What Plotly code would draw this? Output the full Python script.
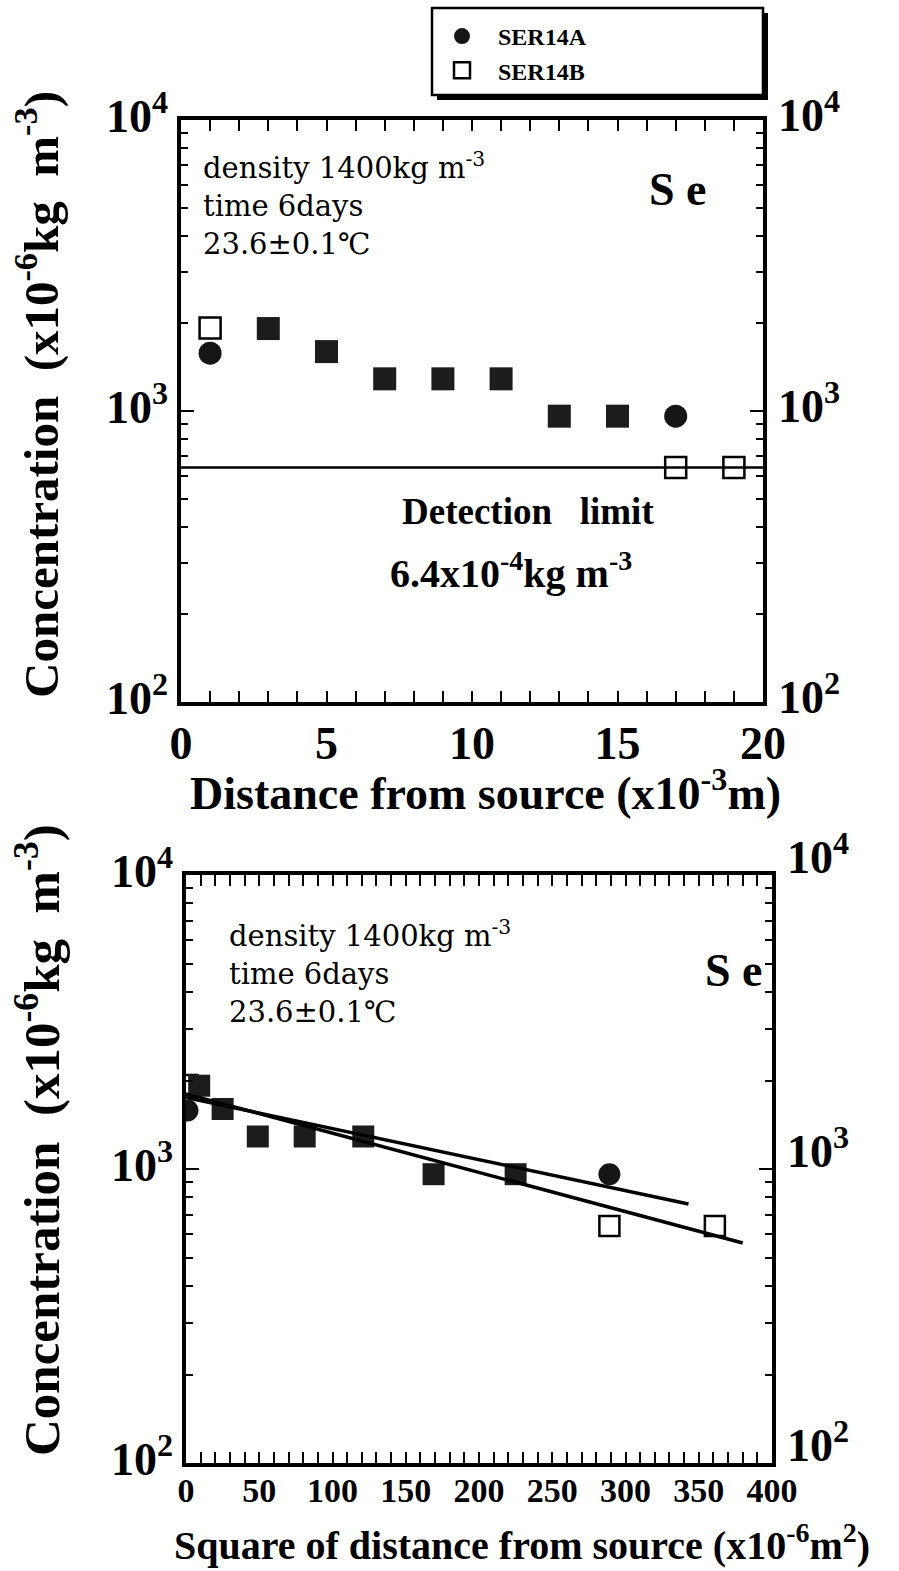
import plotly.graph_objects as go

# ---------------- data ----------------
distance = [1, 3, 5, 7, 9, 11, 13, 15, 17, 19]            # x10^-3 m
ser14a = [1580, 1920, 1600, 1290, 1290, 1290, 960, 960, 960, None]   # x10^-6 kg m^-3
ser14b = [1930, 1920, 1600, 1290, 1290, 1290, 960, 960, 640, 640]
detection_limit = 640
distance_sq = [d * d for d in distance]                    # x10^-6 m^2

fitA_x = [0, 343]
fitA_y = [1750, 760]
fitB_x = [0, 380]
fitB_y = [1800, 560]

ytick_vals = [100, 1000, 10000]
ytick_text = ["10<sup>2</sup>", "10<sup>3</sup>", "10<sup>4</sup>"]
xtick_top = [0, 5, 10, 15, 20]
xtick_bot = [0, 50, 100, 150, 200, 250, 300, 350, 400]
minor_y = [m * 10 ** e for e in (2, 3) for m in range(2, 10)]

FONT = "Liberation Serif, Times New Roman, serif"
FONT2 = "DejaVu Serif, Liberation Serif, serif"
W, H = 899, 1571


def px(x):
    return x / W


def py(y):
    return 1 - y / H


def split(xs):
    """split points into: only A, only B, both equal"""
    a_x, a_y, b_x, b_y, c_x, c_y = [], [], [], [], [], []
    for x, a, b in zip(xs, ser14a, ser14b):
        if a is not None and b is not None and a == b:
            c_x.append(x); c_y.append(a)
        else:
            if a is not None:
                a_x.append(x); a_y.append(a)
            if b is not None:
                b_x.append(x); b_y.append(b)
    return a_x, a_y, b_x, b_y, c_x, c_y


fig = go.Figure()

# ---- top panel ----
a_x, a_y, b_x, b_y, c_x, c_y = split(distance)
fig.add_trace(go.Scatter(x=[0, 20], y=[detection_limit, detection_limit], mode="lines",
                         line=dict(color="black", width=2.5), showlegend=False,
                         xaxis="x", yaxis="y"))
fig.add_trace(go.Scatter(x=a_x, y=a_y, mode="markers", name="SER14A",
                         marker=dict(symbol="circle", size=23, color="#151515"),
                         xaxis="x", yaxis="y"))
fig.add_trace(go.Scatter(x=b_x, y=b_y, mode="markers", name="SER14B",
                         marker=dict(symbol="square-open", size=21, color="black",
                                     line=dict(width=2.5, color="black")),
                         xaxis="x", yaxis="y"))
fig.add_trace(go.Scatter(x=c_x, y=c_y, mode="markers", showlegend=False,
                         marker=dict(symbol="square", size=23, color="#1c1c1c"),
                         xaxis="x", yaxis="y"))
# invisible trace so the right-hand label axis gets drawn
fig.add_trace(go.Scatter(x=[10], y=[detection_limit], mode="markers", showlegend=False,
                         marker=dict(opacity=0), hoverinfo="skip", xaxis="x", yaxis="y3"))

# ---- bottom panel ----
a_x, a_y, b_x, b_y, c_x, c_y = split(distance_sq)
fig.add_trace(go.Scatter(x=a_x, y=a_y, mode="markers", showlegend=False,
                         marker=dict(symbol="circle", size=22, color="#151515"),
                         xaxis="x2", yaxis="y2"))
fig.add_trace(go.Scatter(x=b_x, y=b_y, mode="markers", showlegend=False,
                         marker=dict(symbol="square-open", size=20, color="black",
                                     line=dict(width=2.5, color="black")),
                         xaxis="x2", yaxis="y2"))
fig.add_trace(go.Scatter(x=c_x, y=c_y, mode="markers", showlegend=False,
                         marker=dict(symbol="square", size=22, color="#1c1c1c"),
                         xaxis="x2", yaxis="y2"))
fig.add_trace(go.Scatter(x=fitA_x, y=fitA_y, mode="lines", showlegend=False,
                         line=dict(color="black", width=3.5), xaxis="x2", yaxis="y2"))
fig.add_trace(go.Scatter(x=fitB_x, y=fitB_y, mode="lines", showlegend=False,
                         line=dict(color="black", width=3.5), xaxis="x2", yaxis="y2"))
fig.add_trace(go.Scatter(x=[200], y=[detection_limit], mode="markers", showlegend=False,
                         marker=dict(opacity=0), hoverinfo="skip", xaxis="x2", yaxis="y4"))

# ---- axes ----
def xaxis(domain, anchor, rng, tickvals, minor_dtick, size, standoff):
    return dict(domain=domain, anchor=anchor, range=rng, tickmode="array",
                tickvals=tickvals, ticktext=[str(v) for v in tickvals],
                ticks="inside", ticklen=11, tickwidth=2, tickcolor="black",
                minor=dict(ticks="inside", dtick=minor_dtick, ticklen=6, tickwidth=2,
                           tickcolor="black", showgrid=False),
                showline=True, linewidth=3.5, linecolor="black", mirror="allticks",
                showgrid=False, zeroline=False, automargin=False,
                ticklabelstandoff=standoff,
                tickfont=dict(family=FONT, size=size, color="black", weight="bold"))


def yaxis(domain, anchor):
    return dict(domain=domain, anchor=anchor, type="log", range=[2, 4],
                tickmode="array", tickvals=ytick_vals, ticktext=ytick_text,
                ticks="inside", ticklen=13, tickwidth=2, tickcolor="black",
                minor=dict(ticks="inside", tickmode="array", tickvals=minor_y,
                           ticklen=7, tickwidth=2, tickcolor="black", showgrid=False),
                showline=True, linewidth=3.5, linecolor="black", mirror="allticks",
                showgrid=False, zeroline=False, automargin=False,
                ticklabelshift=-4,
                tickfont=dict(family=FONT, size=46, color="black", weight="bold"))


def yright(over, anchor, shift):
    return dict(overlaying=over, anchor=anchor, side="right", type="log", range=[2, 4],
                tickmode="array", tickvals=ytick_vals, ticktext=ytick_text,
                ticks="", showline=False, showgrid=False, zeroline=False, automargin=False,
                ticklabelstandoff=14, ticklabelshift=shift,
                tickfont=dict(family=FONT, size=46, color="black", weight="bold"))


top_x = [px(181), px(763)]
top_y = [py(702), py(120)]
bot_x = [px(186), px(772)]
bot_y = [py(1463), py(875)]

fig.update_layout(
    xaxis=xaxis(top_x, "y", [0, 20], xtick_top, 1, 46, -2),
    yaxis=yaxis(top_y, "x"),
    xaxis2=xaxis(bot_x, "y2", [0, 400], xtick_bot, 10, 34, -6),
    yaxis2=yaxis(bot_y, "x2"),
    yaxis3=yright("y", "x", -5),
    yaxis4=yright("y2", "x2", -18),
)

# ---- legend box (frame + shadow) ----
shapes = [
    dict(type="rect", xref="paper", yref="paper", x0=px(437), x1=px(768), y0=py(100), y1=py(13),
         fillcolor="black", line=dict(width=0)),
    dict(type="rect", xref="paper", yref="paper", x0=px(432), x1=px(763), y0=py(95), y1=py(8),
         fillcolor="white", line=dict(color="black", width=2.5)),
]

# ---- annotations ----
ann = []


def text(t, x, y, size, bold=False, xanchor="left", angle=0, yanchor="middle", family=FONT):
    ann.append(dict(text=t, x=px(x), y=py(y), xref="paper", yref="paper",
                    xanchor=xanchor, yanchor=yanchor, showarrow=False, textangle=angle,
                    align="left",
                    font=dict(family=family, size=size, color="black",
                              weight="bold" if bold else "normal")))


cond = "density 1400kg m<sup>-3</sup><br>time 6days<br>23.6±0.1℃"
text(cond, 201, 145, 29, yanchor="top", family=FONT2)
text("S e", 678, 190, 46, True, "center")
text("Detection\u00a0\u00a0\u00a0limit", 400, 512, 37, True)
text("6.4x10<sup>-4</sup>kg m<sup>-3</sup>", 388, 570, 40, True)

text(cond, 227, 913, 29, yanchor="top", family=FONT2)
text("S e", 734, 970, 46, True, "center")

ytitle = "Concentration\u00a0\u00a0(x10<sup>-6</sup>kg\u00a0\u00a0m<sup>-3</sup>)"
text(ytitle, 38, 395, 49, True, "center", -90)
text(ytitle, 38, 1140, 51, True, "center", -90)
text("Distance from source (x10<sup>-3</sup>m)", 485, 790, 46, True, "center")
text("Square of distance from source (x10<sup>-6</sup>m<sup>2</sup>)", 522, 1542, 40, True, "center")

fig.update_layout(
    width=W, height=H,
    margin=dict(l=0, r=0, t=0, b=0, autoexpand=False),
    paper_bgcolor="white", plot_bgcolor="white",
    shapes=shapes, annotations=ann,
    showlegend=True,
    legend=dict(x=px(426), y=py(14), xanchor="left", yanchor="top",
                bgcolor="rgba(0,0,0,0)", borderwidth=0, tracegroupgap=0,
                itemwidth=62,
                font=dict(family=FONT, size=24, color="black", weight="bold")),
)

fig.write_html("out.html")
